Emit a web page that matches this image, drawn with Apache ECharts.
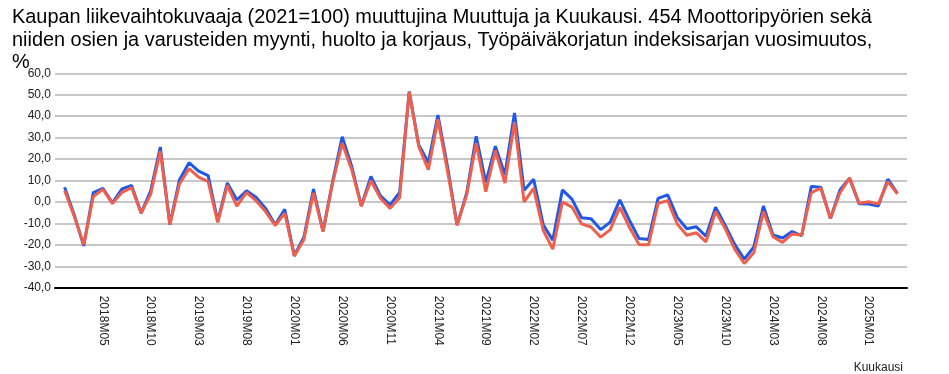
<!DOCTYPE html>
<html>
<head>
<meta charset="utf-8">
<script src="https://cdn.jsdelivr.net/npm/echarts@6/dist/echarts.min.js"></script>
<style>html,body{margin:0;padding:0;background:#fff}#c{width:949px;height:374px}</style>
</head>
<body>
<div id="c"></div>
<script>
// Month categories 2018M01 .. 2025M04
const startYear = 2018, monthCount = 88;
const categories = [];
for (let i = 0; i < monthCount; i++) {
  const y = startYear + Math.floor(i / 12), m = (i % 12) + 1;
  categories.push(y + 'M' + (m < 10 ? '0' + m : m));
}
const seriesBlue = [6.9,-6,-20.5,4.4,6.3,-0.4,6.1,7.7,-5.2,5.3,25.6,-10.5,10.3,18.3,14.4,12.3,-9,8.9,0.9,5.2,
  2.2,-3,-10.6,-3.4,-25,-16.5,6,-13.6,9.5,30.4,16.5,-1.9,11.9,2.8,-1.4,4.5,51.5,26.6,18.4,40.5,
  16.5,-10.8,4.1,30.6,9,26,12.7,41.5,5.4,10.6,-10.6,-17.8,5.6,1.3,-7.4,-7.8,-12.9,-9.4,1,-8.5,
  -17,-17.5,1.7,3.3,-7.2,-12.5,-11.6,-16,-2.5,-10.8,-19.8,-26.7,-21,-1.9,-15.4,-16.8,-13.8,-15.7,7.2,6.9,
  -7.7,5.6,11.1,-0.9,-1,-1.9,10.6,4];
const seriesRed = [5.3,-6.5,-20,2.5,5.9,-0.8,4.5,6.7,-5.2,3.7,23.7,-10.6,8.4,15.5,11.6,9.5,-9.5,7.7,-1.9,4.4,
  0.6,-4.5,-11,-5.2,-25.3,-17.5,4.2,-13.8,8.8,27.5,15,-2,10,1.7,-3,2,51.3,25.8,15,38.5,
  14.5,-10.9,3.3,27.5,4.8,24,8.8,37.3,0,6.3,-13.2,-22,0,-2.4,-10.2,-11.7,-16.4,-12.9,-2.5,-11.8,
  -19.8,-20,-0.6,0.6,-10.3,-15.5,-14.4,-18.6,-4.5,-12.3,-22,-28.7,-23.7,-4.5,-16.2,-18.9,-14.9,-15.4,4.3,6.4,
  -7.7,4.3,11.1,-0.6,0.1,-1,9.5,3.8];
const titleText = 'Kaupan liikevaihtokuvaaja (2021=100) muuttujina Muuttuja ja Kuukausi. 454 Moottoripyörien sekä\nniiden osien ja varusteiden myynti, huolto ja korjaus, Työpäiväkorjatun indeksisarjan vuosimuutos,\n%';
const xName = 'Kuukausi';

const chart = echarts.init(document.getElementById('c'));
chart.setOption({
  animation: false,
  backgroundColor: '#fff',
  title: {
    text: titleText, left: 7, top: 1,
    textStyle: { fontFamily: 'Liberation Sans', fontSize: 19.9, fontWeight: 'normal', color: '#000', lineHeight: 22.7 }
  },
  graphic: [{ type: 'text', right: 46, top: 362, style: { text: xName, font: '12px "Liberation Sans"', fill: '#222' } }],
  grid: { left: 55, right: 42, top: 73.3, bottom: 86.3 },
  xAxis: {
    type: 'value', min: -1, max: 88, interval: 5,
    axisLine: { onZero: false, lineStyle: { color: '#000', width: 2 } },
    axisTick: { show: false },
    splitLine: { show: false },
    axisLabel: {
      rotate: -90, margin: 8, fontFamily: 'Liberation Sans', fontSize: 12, color: '#222',
      formatter: v => (Number.isInteger(v) && v >= 0 && v < categories.length) ? categories[v] : ''
    }
  },
  yAxis: {
    type: 'value', min: -40, max: 60, interval: 10,
    axisLine: { show: false }, axisTick: { show: false },
    splitLine: { lineStyle: { color: '#b4b4b4', width: 1.5 } },
    axisLabel: { margin: 4, fontFamily: 'Liberation Sans', fontSize: 12, color: '#222',
      formatter: v => v.toFixed(1).replace('.', ',') }
  },
  series: [
    { type: 'line', name: 'b', data: seriesBlue.map((v, i) => [i, v]), symbol: 'none',
      lineStyle: { color: '#1f58e8', width: 3 }, itemStyle: { color: '#1f58e8' } },
    { type: 'line', name: 'r', data: seriesRed.map((v, i) => [i, v]), symbol: 'none',
      lineStyle: { color: '#ef5f4b', width: 3 }, itemStyle: { color: '#ef5f4b' } }
  ]
});
</script>
</body>
</html>
